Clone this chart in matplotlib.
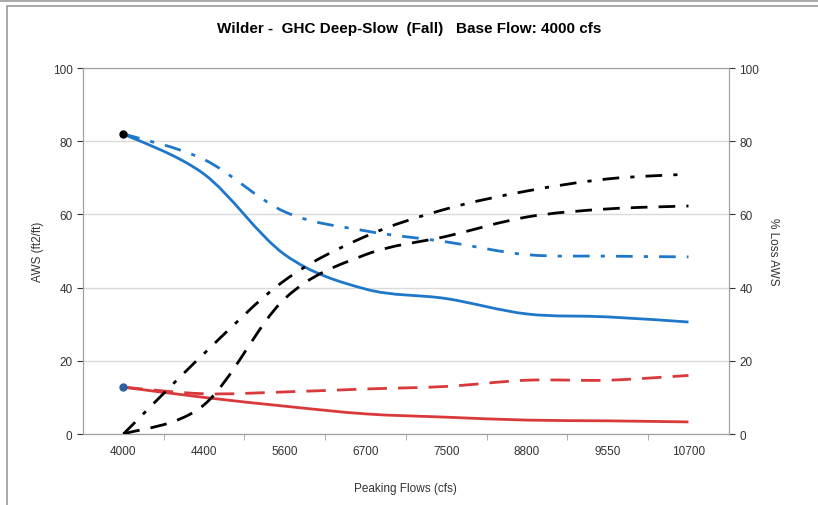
import matplotlib.pyplot as plt
from matplotlib.patches import Rectangle, PathPatch
from matplotlib.path import Path
from matplotlib.lines import Line2D

plt.rcParams['font.family'] = ['Liberation Sans', 'DejaVu Sans']

# peaking flow categories (cfs)
flows = ['4000', '4400', '5600', '6700', '7500', '8800', '9550', '10700']

# AWS (ft2/ft), left axis
aws_blue_solid = [82, 71, 49, 39.6, 37, 32.8, 32, 30.6]
aws_blue_dashdot = [82, 75, 60.7, 55.5, 52.5, 49, 48.6, 48.4]
aws_red_solid = [12.8, 10, 7.6, 5.5, 4.6, 3.8, 3.6, 3.3]
aws_red_dashed = [12.8, 11, 11.5, 12.3, 13, 14.7, 14.7, 16]

# % loss AWS, right axis
loss_dashdot = [0, 22, 42, 54, 61.5, 66.4, 69.7, 71]
loss_dashed = [0, 8, 37, 49, 54, 59.3, 61.5, 62.3]


def smooth_line(a, xs, ys, color, ls='-', zorder=3):
    # Excel-style smoothed line: cubic bezier through every point
    n = len(xs)
    verts = [(xs[0], ys[0])]
    codes = [Path.MOVETO]
    for i in range(n - 1):
        i0 = max(i - 1, 0)
        i3 = min(i + 2, n - 1)
        c1 = (xs[i] + (xs[i + 1] - xs[i0]) / 6, ys[i] + (ys[i + 1] - ys[i0]) / 6)
        c2 = (xs[i + 1] - (xs[i3] - xs[i]) / 6, ys[i + 1] - (ys[i3] - ys[i]) / 6)
        verts += [c1, c2, (xs[i + 1], ys[i + 1])]
        codes += [Path.CURVE4] * 3
    a.add_patch(PathPatch(Path(verts, codes), fill=False, edgecolor=color,
                          lw=2, linestyle=ls, zorder=zorder, capstyle='butt'))


fig = plt.figure(figsize=(8.18, 5.06), dpi=100)
ax = fig.add_axes([0.1015, 0.1403, 0.7895, 0.7233])
ax2 = ax.twinx()

x = list(range(len(flows)))
blue = '#1f77c9'
red = '#d9393b'
dashdot = (0, (6, 4, 1.5, 4))
dashed = (0, (6, 4))

smooth_line(ax, x, aws_blue_solid, blue)
smooth_line(ax, x, aws_blue_dashdot, blue, dashdot)
smooth_line(ax, x, aws_red_solid, red)
smooth_line(ax, x, aws_red_dashed, red, (0, (7, 4)))
ax.plot([0], [aws_blue_solid[0]], 'o', color='black', ms=5, zorder=4)
ax.plot([0], [aws_red_solid[0]], 'o', color='#2e5f9e', ms=5, zorder=4)

smooth_line(ax2, x, loss_dashdot, 'black', dashdot)
smooth_line(ax2, x, loss_dashed, 'black', dashed)

for a in (ax, ax2):
    a.set_ylim(0, 100)
    a.set_yticks([0, 20, 40, 60, 80, 100])
    a.set_xlim(-0.5, len(flows) - 0.5)
    a.tick_params(axis='y', labelsize=8.5, colors='#333333', length=4)
    for s in a.spines.values():
        s.set_color('#a0a0a0')

ax.grid(axis='y', color='#dadada', lw=1)
ax.set_axisbelow(True)
ax.set_xticks(x)
ax.set_xticklabels(flows)
ax.set_xticks([i + 0.5 for i in x[:-1]], minor=True)
ax.tick_params(axis='x', which='major', length=0, labelsize=8.5, colors='#333333', pad=8)
ax.tick_params(axis='x', which='minor', length=4, color='#a0a0a0')

ax.set_ylabel('AWS (ft2/ft)', fontsize=8.5, color='#333333', labelpad=6)
ax2.set_ylabel('% Loss AWS', fontsize=8.5, color='#333333', rotation=270, labelpad=14)
ax.set_xlabel('Peaking Flows (cfs)', fontsize=8.5, color='#333333', labelpad=18)

fig.text(0.5, 0.943, 'Wilder -  GHC Deep-Slow  (Fall)   Base Flow: 4000 cfs',
         ha='center', va='center', fontsize=11, fontweight='bold')

# outer frame like the pasted chart
fig.patches.append(Rectangle((0.0086, -0.05), 1.05, 1.036, transform=fig.transFigure,
                             fill=False, edgecolor='#9a9a9a', lw=1.2))
fig.lines.append(Line2D([0, 1], [0.997, 0.997], transform=fig.transFigure,
                        color='#9a9a9a', lw=1.2))

fig.savefig('out.png', dpi=100)
